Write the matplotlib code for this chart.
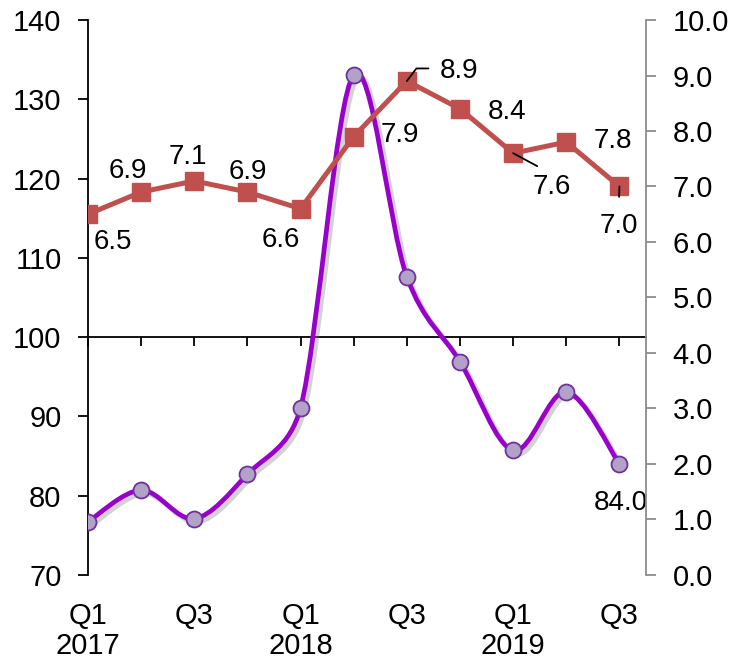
import matplotlib
matplotlib.use("Agg")
import numpy as np
import matplotlib.pyplot as plt
import matplotlib.patheffects as pe
from matplotlib.path import Path
from matplotlib.patches import PathPatch
from matplotlib.transforms import blended_transform_factory

plt.rcParams['font.family'] = ['Liberation Sans', 'DejaVu Sans']

# quarters Q1 2017 .. Q3 2019
quarters = list(range(11))
tick_labels = ["Q1\n2017", "", "Q3", "", "Q1\n2018", "", "Q3", "", "Q1\n2019", "", "Q3"]

# left axis series (smoothed purple line)
index_values = [76.7, 80.7, 77.1, 82.7, 91.1, 133.1, 107.6, 96.9, 85.7, 93.1, 84.0]

# right axis series (red squares)
rate_values = [6.5, 6.9, 7.1, 6.9, 6.6, 7.9, 8.9, 8.4, 7.6, 7.8, 7.0]

# label offsets in pixels (dx, dy) for the red series
rate_offsets = [(25, -28), (-13, 21), (-6, 24), (0, 20), (-20, -31),
                (46, 2), (52, 10), (47, -3), (39, -34), (47, 1), (-1, -40)]

PURPLE = "#9900CC"
RED = "#C0504D"


def smooth_path(ax, xs, ys):
    # Excel-like Bezier smoothing, computed in screen space
    to_px = ax.transData
    pts = to_px.transform(np.column_stack([xs, ys]))
    n = len(pts)

    def ctrl(base, a, b, seg):
        v = (b - a) / 6
        L = np.hypot(*v)
        lim = 0.5 * seg
        if L > lim > 0:
            v = v * lim / L
        return v

    verts = [pts[0]]
    codes = [Path.MOVETO]
    for i in range(n - 1):
        p0 = pts[i - 1] if i > 0 else pts[i]
        p1 = pts[i]
        p2 = pts[i + 1]
        p3 = pts[i + 2] if i + 2 < n else pts[i + 1]
        seg = np.hypot(*(p2 - p1))
        c1 = p1 + ctrl(p1, p0, p2, seg)
        c2 = p2 - ctrl(p2, p1, p3, seg)
        verts += [c1, c2, p2]
        codes += [Path.CURVE4] * 3
    verts = to_px.inverted().transform(np.array(verts))
    return Path(verts, codes)


fig = plt.figure(figsize=(7.3, 6.67), dpi=100)
ax = fig.add_axes([0.1205, 0.138, 0.7645, 0.832])
ax.set_xlim(0, 10.5)
ax.set_ylim(70, 140)

ax2 = ax.twinx()
ax2.set_ylim(0, 10)

# spines
ax.spines['top'].set_visible(False)
ax.spines['right'].set_visible(False)
ax.spines['bottom'].set_position(('data', 100))
ax.spines['bottom'].set_linewidth(1.3)
ax.spines['left'].set_linewidth(1.3)
for s in ['top', 'left', 'bottom']:
    ax2.spines[s].set_visible(False)
ax2.spines['right'].set_color('#8C8C8C')
ax2.spines['right'].set_linewidth(1.3)

ax.set_xticks(quarters)
ax.tick_params(axis='x', direction='out', length=6.5, width=1.3, labelbottom=False)
ax.set_yticks(range(70, 141, 10))
ax.tick_params(axis='y', direction='out', length=7, width=1.3, pad=12, labelsize=21)
ax2.set_yticks(range(0, 11))
ax2.set_yticklabels([f"{v:.1f}" for v in range(0, 11)])
ax2.tick_params(axis='y', direction='out', length=7, width=1.3, pad=12,
                labelsize=21, color='#8C8C8C')

trans = blended_transform_factory(ax.transData, ax.transAxes)
for q, lab in zip(quarters, tick_labels):
    if lab:
        ax.text(q, -0.048, lab, transform=trans, ha='center', va='top',
                fontsize=21, linespacing=1.1)

# purple smoothed line with shadow
patch = PathPatch(smooth_path(ax, quarters, index_values), facecolor='none',
                  edgecolor=PURPLE, lw=3.4, capstyle='round', zorder=3,
                  path_effects=[pe.SimpleLineShadow(offset=(2.5, -2.5), shadow_color='#808080', alpha=0.35),
                                pe.Normal()])
ax.add_patch(patch)
ax.plot(quarters, index_values, linestyle='none', marker='o', ms=11.5,
        mfc='#B3A2C7', mec='#7030A0', mew=1.3, zorder=4)
ax.annotate(f"{index_values[-1]:.1f}", (quarters[-1], index_values[-1]),
            xytext=(1, -39), textcoords='offset pixels', ha='center', va='center',
            fontsize=20)

# red line
ax2.plot(quarters, rate_values, color=RED, lw=3.6, marker='s', ms=13.5, mec=RED, zorder=3)

for i, (q, v) in enumerate(zip(quarters, rate_values)):
    dx, dy = rate_offsets[i]
    arrow = None
    if i == 6:
        arrow = dict(arrowstyle='-', color='black', lw=1.3, relpos=(0, 0.6),
                     shrinkA=6, shrinkB=0,
                     connectionstyle='angle,angleA=0,angleB=53')
    elif i == 8:
        arrow = dict(arrowstyle='-', color='black', lw=1.3, relpos=(0.5, 1),
                     shrinkA=8, shrinkB=0)
    elif i == 10:
        arrow = dict(arrowstyle='-', color='black', lw=1.3, relpos=(0.5, 1),
                     shrinkA=10, shrinkB=0)
    ax2.annotate(f"{v:.1f}", (q, v), xytext=(dx, dy), textcoords='offset pixels',
                 ha='center', va='center', fontsize=20, arrowprops=arrow, zorder=5)

fig.savefig("out.png", dpi=100)
